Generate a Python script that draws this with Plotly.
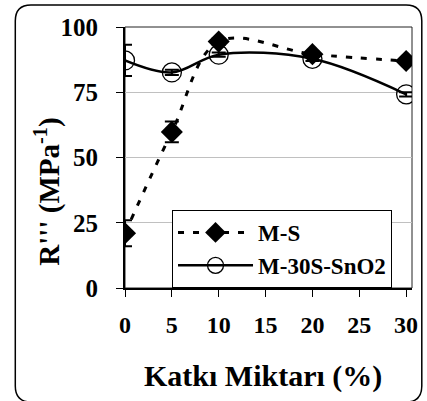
import plotly.graph_objects as go

x_vals = [0, 5, 10, 20, 30]
ms_vals = [21, 59.8, 94.4, 89.6, 87]
ms_err = [5, 4, 1.2, 1, 0.8]
sn_vals = [87.2, 82.6, 89.4, 87.8, 74.2]
sn_err = [6, 1, 0.8, 0.8, 0.8]
x_ticks = [0, 5, 10, 15, 20, 25, 30]
y_ticks = [0, 25, 50, 75, 100]
series_names = ["M-S", "M-30S-SnO2"]
x_title = "Katkı Miktarı (%)"
y_title = "R''' (MPa<sup>-1</sup>)"

W, H = 427, 401
L, R, T, B = 125, 9, 27, 113
pw, ph = W - L - R, H - T - B

def px(xp):
    return (xp - L) / pw

def py(yp):
    return (H - B - yp) / ph

def bold(s):
    return f"<b>{s}</b>"

FONT = "Liberation Serif"

fig = go.Figure()
fig.add_trace(go.Scatter(
    x=x_vals, y=ms_vals, name=bold(series_names[0]), mode="lines+markers",
    line=dict(color="black", width=3, dash="6px,9px", shape="spline", smoothing=1),
    marker=dict(symbol="diamond", size=17, color="black"),
    error_y=dict(type="data", array=ms_err, color="black", thickness=2, width=7),
))
fig.add_trace(go.Scatter(
    x=x_vals, y=sn_vals, name=bold(series_names[1]), mode="lines+markers",
    line=dict(color="black", width=2.5, shape="spline", smoothing=1),
    marker=dict(symbol="circle-open", size=19, color="black", line=dict(width=1.3)),
    error_y=dict(type="data", array=sn_err, color="black", thickness=2, width=7),
))

# rounded outer frame
l, r, t, b = px(13), px(428), py(5), py(402)
rx, ry = 16 / pw, 16 / ph
path = (f"M {l+rx} {t} L {r-rx} {t} Q {r} {t} {r} {t-ry} L {r} {b+ry} Q {r} {b} {r-rx} {b} "
        f"L {l+rx} {b} Q {l} {b} {l} {b+ry} L {l} {t-ry} Q {l} {t} {l+rx} {t} Z")
fig.add_shape(type="path", path=path, xref="paper", yref="paper",
              line=dict(color="black", width=1.5))
fig.add_shape(type="rect", xref="paper", yref="paper", x0=0, x1=1, y0=0, y1=1,
              line=dict(color="#222", width=1), layer="below")

fig.add_annotation(text=bold(y_title), xref="paper", yref="paper",
                   x=px(45), y=py(192), xanchor="center", yanchor="middle",
                   textangle=-90, showarrow=False,
                   font=dict(family=FONT, size=29, color="black"))
fig.add_annotation(text=bold(x_title), xref="paper", yref="paper",
                   x=px(266), y=py(376), xanchor="center", yanchor="middle", showarrow=False,
                   font=dict(family=FONT, size=30, color="black"))

fig.update_layout(
    width=W, height=H, margin=dict(l=L, r=R, t=T, b=B),
    paper_bgcolor="white", plot_bgcolor="white",
    font=dict(family=FONT, color="black", size=20),
    showlegend=True,
    legend=dict(x=px(173), y=py(210), xanchor="left", yanchor="top",
                bgcolor="white", bordercolor="black", borderwidth=1,
                font=dict(family=FONT, size=23, color="black"),
                itemwidth=75, tracegroupgap=0),
    xaxis=dict(range=[0, 30 * pw / 287], tickvals=x_ticks, ticktext=[bold(v) for v in x_ticks],
               showgrid=False, zeroline=False,
               showline=True, linecolor="black", linewidth=2,
               ticks="outside", ticklen=7, tickcolor="black", tickwidth=1,
               tickfont=dict(family=FONT, size=24, color="black"),
               ticklabelstandoff=7),
    yaxis=dict(range=[0, 100], tickvals=y_ticks, ticktext=[bold(v) for v in y_ticks],
               showgrid=True, gridcolor="#c0c0c0", gridwidth=1,
               zeroline=False, showline=True, linecolor="black", linewidth=2,
               ticks="outside", ticklen=7, tickcolor="black", tickwidth=1,
               tickfont=dict(family=FONT, size=25, color="black"),
               ticklabelstandoff=13),
)

fig.write_html("out.html", config={"displayModeBar": False},
               post_script="document.body.style.margin='0';")
